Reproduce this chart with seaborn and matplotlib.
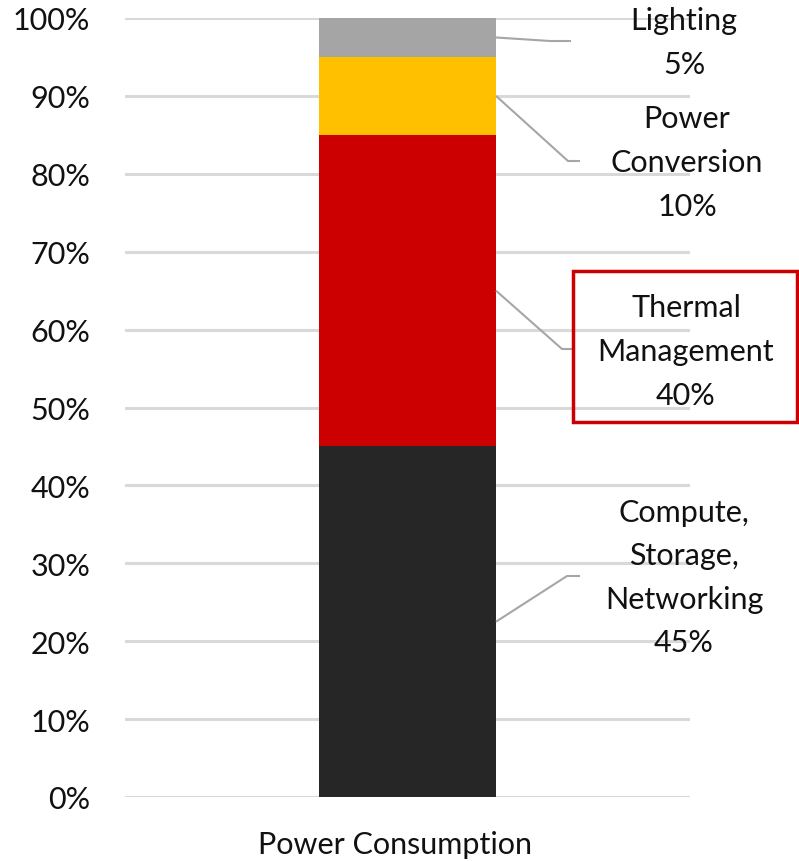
import matplotlib
matplotlib.use("Agg")
import matplotlib.pyplot as plt
import matplotlib.transforms as mtransforms
import seaborn as sns
import pandas as pd
import numpy as np

# ---- data ----
category = ["Power Consumption"]
segments = ["Compute,\nStorage,\nNetworking", "Thermal\nManagement", "Power\nConversion", "Lighting"]
shares = [45, 40, 10, 5]
colors = ["#262626", "#CC0000", "#FFC000", "#A5A5A5"]
yticks = [0, 10, 20, 30, 40, 50, 60, 70, 80, 90, 100]

sns.set_theme(style="white")
plt.rcParams["font.family"] = ["Lato", "DejaVu Sans"]

W, H = 799, 862
fig = plt.figure(figsize=(W / 100, H / 100), dpi=100)
ax = fig.add_axes([125 / W, 1 - 798 / H, (690 - 125) / W, (798 - 19) / H])

cum = np.cumsum(shares)
bar_w = 177 / 565
# draw stacked bars from the tallest cumulative down
for i in range(len(shares) - 1, -1, -1):
    df = pd.DataFrame({"cat": category, "val": [cum[i]]})
    sns.barplot(data=df, x="cat", y="val", color=colors[i], width=bar_w,
                saturation=1, ax=ax, zorder=3, edgecolor="none")

ax.set_xlim(-0.5, 0.5)
ax.set_ylim(0, 100)
ax.set_yticks(yticks)
ax.set_yticklabels([f"{t}%" for t in yticks])
ax.set_xlabel("")
ax.set_ylabel("")
ax.yaxis.grid(True, color="#D9D9D9", linewidth=2.2, zorder=0)
ax.xaxis.grid(False)
for s in ax.spines.values():
    s.set_visible(False)
ax.tick_params(axis="y", length=0, pad=25, labelsize=22, labelcolor="#111111")
ax.tick_params(axis="x", length=0, pad=24, labelsize=22, labelcolor="#111111")
shift = mtransforms.ScaledTranslation(-12 / 100, 0, fig.dpi_scale_trans)
for lbl in ax.get_xticklabels():
    lbl.set_transform(lbl.get_transform() + shift)

# ---- data labels with leader lines (positions in figure pixels) ----
inv = ax.transData.inverted()
def to_data(px, py):
    return inv.transform(fig.transFigure.transform((px / W, 1 - py / H)))

label_pos = [(684, 578), (686, 352), (687, 163), (684, 43)]
elbows = [((567, 577), (580, 577)), ((562, 350), (572, 350)),
          ((568, 162), (580, 162)), ((550, 42), (571, 42))]
bottoms = cum - np.array(shares)
for i, seg in enumerate(segments):
    mid = bottoms[i] + shares[i] / 2
    e1 = to_data(*elbows[i][0])
    e2 = to_data(*elbows[i][1])
    ax.plot([bar_w / 2, e1[0], e2[0]], [mid, e1[1], e2[1]], color="#A6A6A6",
            linewidth=1.5, zorder=4, clip_on=False, solid_capstyle="butt")
    tx, ty = label_pos[i]
    fig.text(tx / W, 1 - ty / H, f"{seg}\n{shares[i]}%", ha="center", va="center",
             fontsize=22, color="#111111", linespacing=1.68, zorder=5)

# red box around Thermal Management label
from matplotlib.patches import Rectangle
fig.patches.append(Rectangle((573 / W, 1 - 423 / H), (797 - 573) / W, (423 - 272) / H,
                             transform=fig.transFigure, fill=False,
                             edgecolor="#CC0000", linewidth=2.5, zorder=6))

fig.savefig("out.png", dpi=100)
